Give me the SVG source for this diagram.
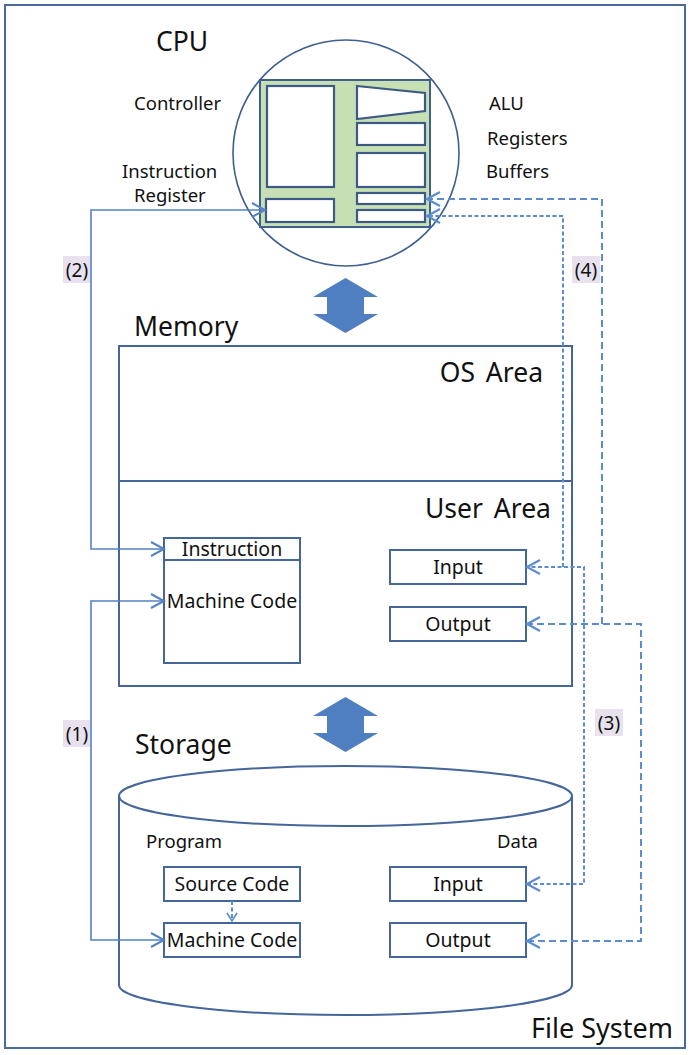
<svg xmlns="http://www.w3.org/2000/svg" width="691" height="1055" viewBox="0 0 691 1055">
<style>
text{font-family:"Noto Sans","Open Sans","Liberation Sans",sans-serif;fill:#111}
.frame{fill:none;stroke:#4a6a9c;stroke-width:2}
.box{fill:#fff;stroke:#45669a;stroke-width:2}
.inner{fill:#fff;stroke:#3d5a87;stroke-width:2.2}
.solid{fill:none;stroke:#5582c2;stroke-width:1.6}
.dshort{fill:none;stroke:#5b8ccf;stroke-width:2;stroke-dasharray:4 2.5}
.dlong{fill:none;stroke:#5b8ccf;stroke-width:2;stroke-dasharray:7 4}
.big{font-size:26.5px}
.mid{font-size:18.5px}
.lbl{font-size:19.5px;text-anchor:middle}
.num{font-size:19px;text-anchor:middle}
.tag{fill:#e7e2ed}
.dbl{fill:#4f7fc0}
</style>
<defs>
<marker id="arr" viewBox="-15 -10 17 20" refX="0" refY="0" markerWidth="17" markerHeight="20" markerUnits="userSpaceOnUse" orient="auto-start-reverse" overflow="visible">
<path d="M-13,-7 L0,0 L-13,7" fill="none" stroke="#5582c2" stroke-width="2"/>
</marker>
<marker id="arrd" viewBox="-15 -10 17 20" refX="0" refY="0" markerWidth="17" markerHeight="20" markerUnits="userSpaceOnUse" orient="auto-start-reverse" overflow="visible">
<path d="M-13,-7 L0,0 L-13,7" fill="none" stroke="#5b8ccf" stroke-width="2.2"/>
</marker>
<marker id="arrs" viewBox="-10 -8 12 16" refX="0" refY="0" markerWidth="12" markerHeight="16" markerUnits="userSpaceOnUse" orient="auto" overflow="visible">
<path d="M-8,-5 L0,0 L-8,5" fill="none" stroke="#5b8ccf" stroke-width="1.6"/>
</marker>
</defs>

<rect class="frame" x="5" y="5" width="680" height="1043"/>
<text x="531" y="1038" style="font-size:27px">File System</text>

<g id="cpu">
<text x="156" y="51" class="big">CPU</text>
<circle cx="346" cy="153" r="113" fill="#fff" stroke="#3f5f8f" stroke-width="1.6"/>
<rect x="260" y="80" width="170" height="147" fill="#c6e0b4" stroke="#3f5f8f" stroke-width="2"/>
<rect class="inner" x="267" y="86" width="67" height="101"/>
<rect class="inner" x="266" y="199" width="68" height="23"/>
<polygon class="inner" points="357,86 425,93 425,111 357,119"/>
<rect class="inner" x="357" y="123" width="68" height="22"/>
<rect class="inner" x="357" y="153" width="68" height="34"/>
<rect class="inner" x="357" y="193" width="68" height="11"/>
<rect class="inner" x="357" y="210" width="68" height="12"/>
<text x="134" y="110" class="mid">Controller</text>
<text x="122" y="178" class="mid">Instruction</text>
<text x="134" y="202" class="mid">Register</text>
<text x="489" y="110" class="mid">ALU</text>
<text x="487" y="145" class="mid">Registers</text>
<text x="486" y="178" class="mid">Buffers</text>
</g>

<g id="arrow-cpu-mem">
<polygon class="dbl" points="345.5,278 378,297 364,297 364,314 378,314 345.5,333 313,314 327,314 327,297 313,297"/>
</g>

<g id="memory">
<text x="134" y="336" class="big">Memory</text>
<rect class="box" x="119" y="346" width="453" height="340"/>
<line x1="119" y1="481" x2="572" y2="481" stroke="#45669a" stroke-width="2"/>
<text x="543" y="382" class="big" text-anchor="end" word-spacing="4">OS Area</text>
<text x="551" y="518" class="big" text-anchor="end" word-spacing="4">User Area</text>
</g>

<g id="mem-code">
<rect class="box" x="164" y="538" width="136" height="125"/>
<line x1="164" y1="560" x2="300" y2="560" stroke="#45669a" stroke-width="2"/>
<text x="232" y="556" class="lbl">Instruction</text>
<text x="232" y="608" class="lbl">Machine Code</text>
</g>
<g id="mem-input">
<rect class="box" x="390" y="550" width="136" height="34"/>
<text x="458" y="574" class="lbl">Input</text>
</g>
<g id="mem-output">
<rect class="box" x="390" y="607" width="136" height="34"/>
<text x="458" y="631" class="lbl">Output</text>
</g>

<g id="arrow-mem-sto">
<polygon class="dbl" points="345.5,697 378,716 364,716 364,733 378,733 345.5,752 313,733 327,733 327,716 313,716"/>
</g>

<g id="storage">
<text x="135" y="754" class="big">Storage</text>
<path d="M119,796 L119,985 A226.5,30 0 0 0 572,985 L572,796" fill="#fff" stroke="#45669a" stroke-width="2"/>
<ellipse cx="345.5" cy="796" rx="226.5" ry="30" fill="#fff" stroke="#45669a" stroke-width="2"/>
<text x="146" y="848" class="mid">Program</text>
<text x="497" y="848" class="mid">Data</text>
</g>
<g id="sto-source">
<rect class="box" x="164" y="867" width="136" height="34"/>
<text x="232" y="891" class="lbl">Source Code</text>
</g>
<g id="sto-machine">
<rect class="box" x="164" y="923" width="136" height="34"/>
<text x="232" y="947" class="lbl">Machine Code</text>
</g>
<g id="sto-input">
<rect class="box" x="390" y="867" width="136" height="34"/>
<text x="458" y="891" class="lbl">Input</text>
</g>
<g id="sto-output">
<rect class="box" x="390" y="923" width="136" height="34"/>
<text x="458" y="947" class="lbl">Output</text>
</g>

<g id="connectors">
<path class="solid" d="M164,940 L91,940 L91,601 L164,601" marker-start="url(#arr)" marker-end="url(#arr)"/>
<path class="solid" d="M164,549 L91,549 L91,210 L265,210" marker-start="url(#arr)" marker-end="url(#arr)"/>
<path class="dshort" d="M232,901 L232,921" marker-end="url(#arrs)"/>
<path class="dshort" d="M527,884 L584,884 L584,567 L527,567" marker-start="url(#arrd)" marker-end="url(#arrd)"/>
<path class="dlong" d="M527,941 L641,941 L641,624 L527,624" marker-start="url(#arrd)" marker-end="url(#arrd)"/>
<path class="dshort" d="M563,567 L563,216 L427,216" marker-end="url(#arrd)"/>
<path class="dlong" d="M602,624 L602,199 L427,199" marker-end="url(#arrd)"/>
<rect class="tag" x="63" y="256" width="27" height="27"/>
<text x="77" y="277" class="num">(2)</text>
<rect class="tag" x="572" y="256" width="28" height="27"/>
<text x="586" y="277" class="num">(4)</text>
<rect class="tag" x="63" y="720" width="27" height="27"/>
<text x="77" y="741" class="num">(1)</text>
<rect class="tag" x="595" y="709" width="28" height="27"/>
<text x="609" y="730" class="num">(3)</text>
</g>
</svg>
